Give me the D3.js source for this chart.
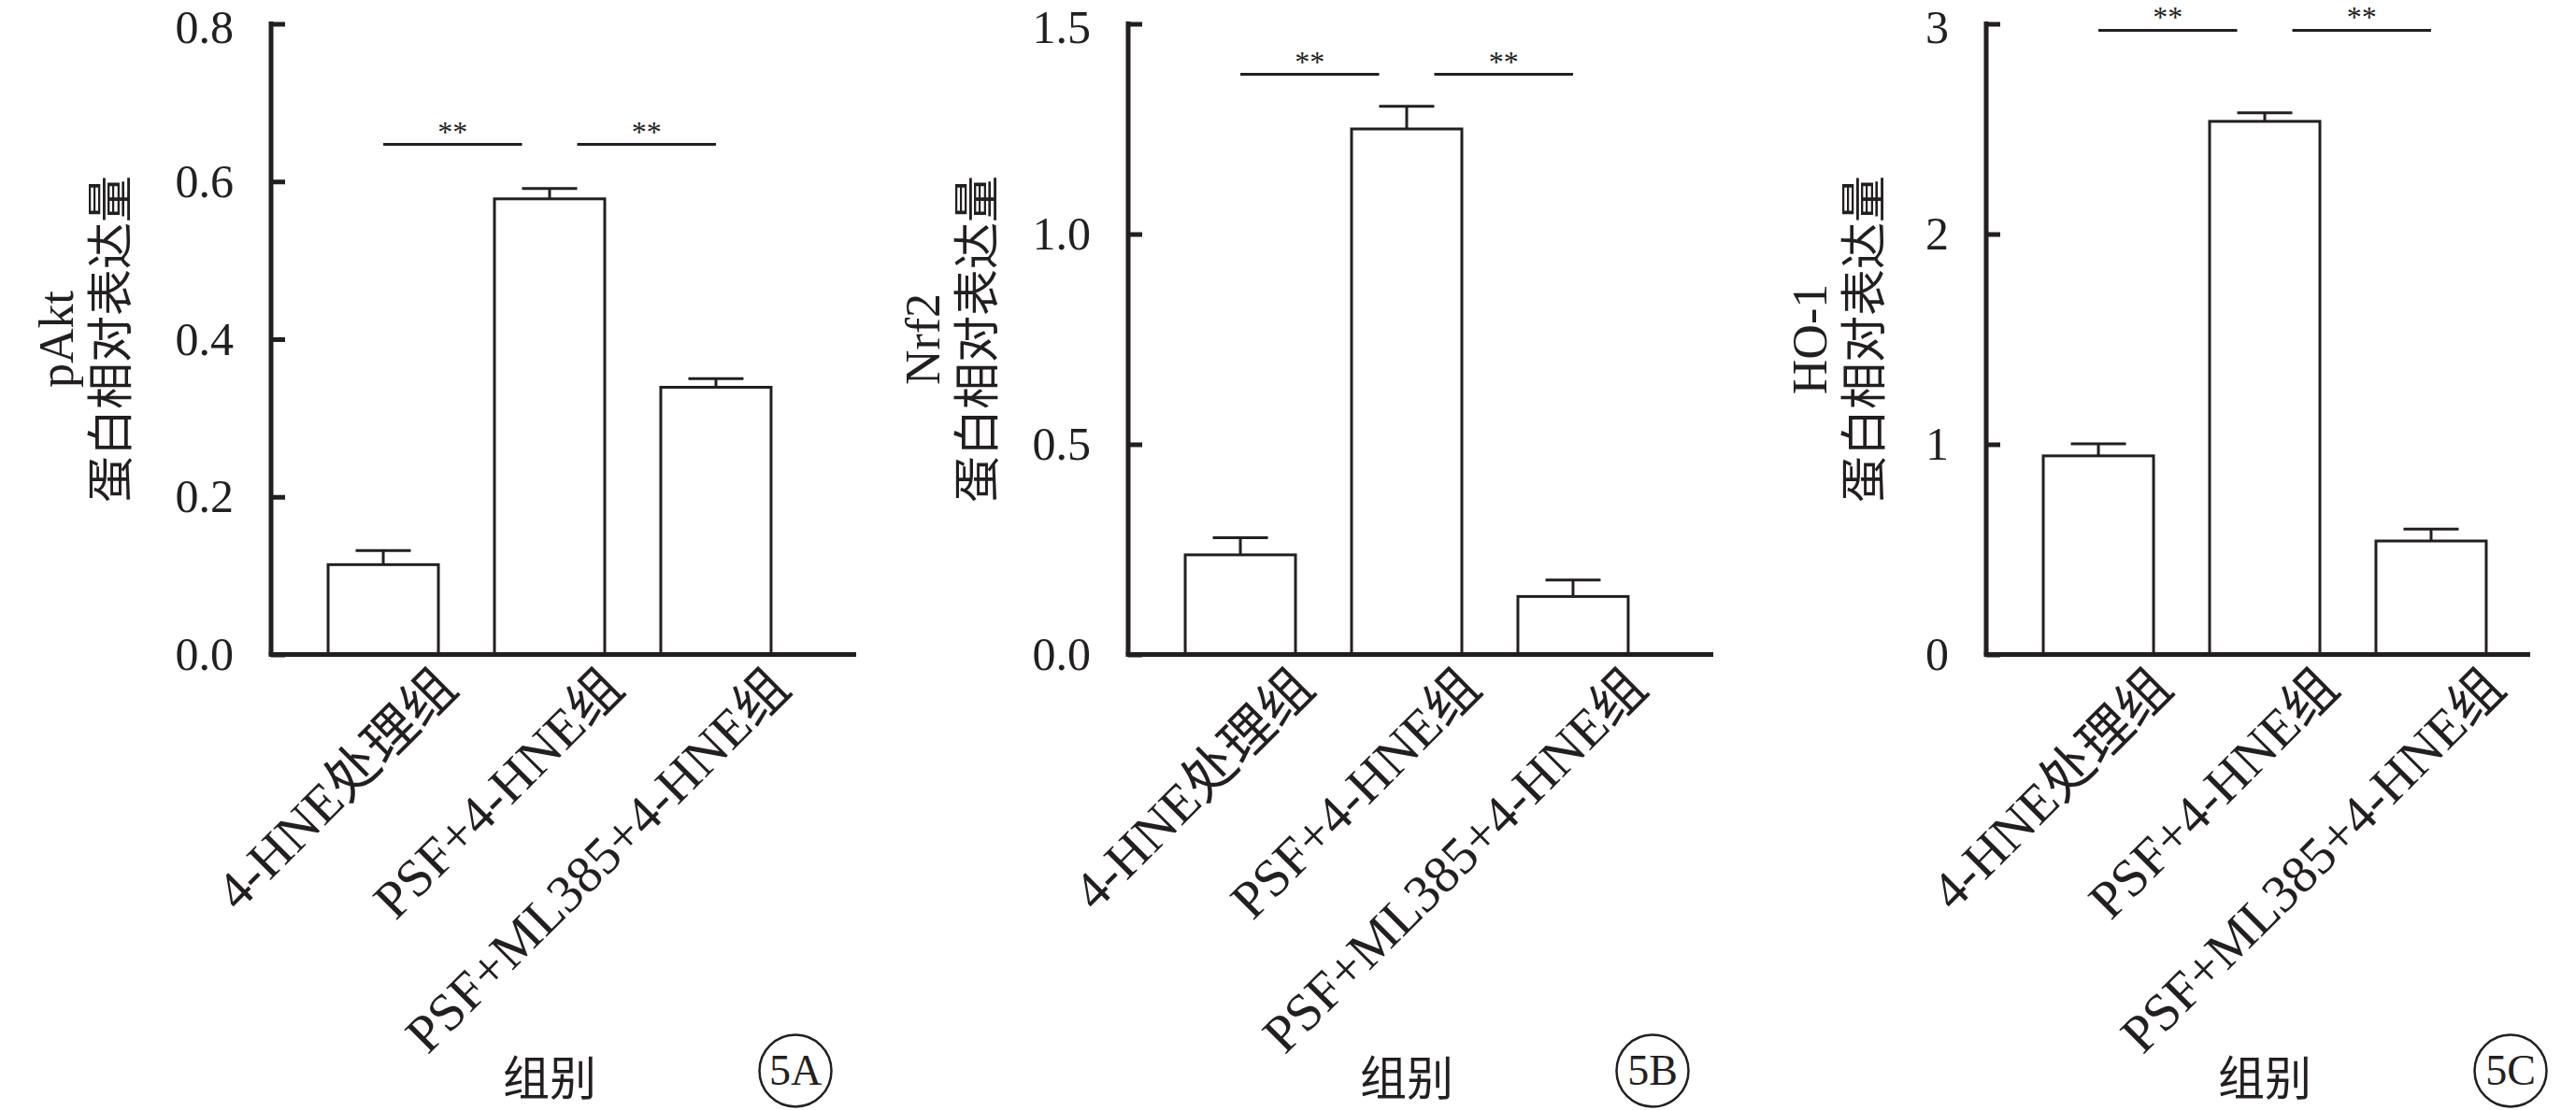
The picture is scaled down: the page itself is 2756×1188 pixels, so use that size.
<!DOCTYPE html>
<html>
<head>
<meta charset="utf-8">
<script src="https://cdn.jsdelivr.net/npm/d3@7"></script>
<style>
  html, body { margin: 0; padding: 0; background: #fff; }
  svg { display: block; }
  text { fill: #231f20; }
</style>
</head>
<body>
<script>
// ---------------- data ----------------
const categories = ["4-HNE处理组", "PSF+4-HNE组", "PSF+ML385+4-HNE组"];

const pAktMean = [0.114, 0.578, 0.339];
const pAktErr  = [0.018, 0.013, 0.011];
const nrf2Mean = [0.237, 1.250, 0.138];
const nrf2Err  = [0.041, 0.054, 0.039];
const ho1Mean  = [0.945, 2.536, 0.540];
const ho1Err   = [0.057, 0.041, 0.057];

const pAktTicks = [0, 0.2, 0.4, 0.6, 0.8];
const nrf2Ticks = [0, 0.5, 1.0, 1.5];
const ho1Ticks  = [0, 1, 2, 3];

const pAktSig = 0.647;
const nrf2Sig = 1.380;
const ho1Sig  = 2.969;

const proteinNames = ["pAkt", "Nrf2", "HO-1"];
const yTitleCN = "蛋白相对表达量";
const xTitle = "组别";
const panelTags = ["5A", "5B", "5C"];
const sigText = "**";

// ------------- layout / style -------------
const W = 2756, H = 1188;
const LATIN = "'Liberation Serif', 'Times New Roman', serif";
const MIXED = "'Liberation Serif', 'Noto Sans CJK SC', serif";
const CJK = "'Noto Sans CJK SC', sans-serif";
const INK = "#231f20";

const panels = [
  { mean: pAktMean, err: pAktErr, ticks: pAktTicks, fmt: d3.format(".1f"), sig: pAktSig, name: proteinNames[0], tag: panelTags[0],
    axisX: 290, axisLen: 626, titleOff: -173 },
  { mean: nrf2Mean, err: nrf2Err, ticks: nrf2Ticks, fmt: d3.format(".1f"), sig: nrf2Sig, name: proteinNames[1], tag: panelTags[1],
    axisX: 1207, axisLen: 626, titleOff: -163 },
  { mean: ho1Mean, err: ho1Err, ticks: ho1Ticks, fmt: d3.format("d"), sig: ho1Sig, name: proteinNames[2], tag: panelTags[2],
    axisX: 2125, axisLen: 582, titleOff: -132 }
];

const yTop = 25.5, yBottom = 700.5;

const svg = d3.select("body").append("svg")
  .attr("width", W).attr("height", H)
  .attr("viewBox", `0 0 ${W} ${H}`);

panels.forEach(p => {
  const g = svg.append("g");
  const x = d3.scaleBand()
    .domain(categories)
    .range([p.axisX, p.axisX + 596])
    .paddingInner(0.337)
    .paddingOuter(0.343);
  const y = d3.scaleLinear()
    .domain([0, p.ticks[p.ticks.length - 1]])
    .range([yBottom, yTop]);

  const bw = x.bandwidth();
  const cx = c => x(c) + bw / 2;

  // bars
  g.selectAll("rect.bar").data(categories).join("rect")
    .attr("class", "bar")
    .attr("x", c => x(c))
    .attr("width", bw)
    .attr("y", (c, i) => y(p.mean[i]))
    .attr("height", (c, i) => y(0) - y(p.mean[i]))
    .attr("fill", "#fff")
    .attr("stroke", INK)
    .attr("stroke-width", 3);

  // error bars
  g.selectAll("line.errv").data(categories).join("line")
    .attr("class", "errv")
    .attr("x1", cx).attr("x2", cx)
    .attr("y1", (c, i) => y(p.mean[i]))
    .attr("y2", (c, i) => y(p.mean[i] + p.err[i]))
    .attr("stroke", INK).attr("stroke-width", 3);
  g.selectAll("line.errc").data(categories).join("line")
    .attr("class", "errc")
    .attr("x1", c => cx(c) - bw / 4).attr("x2", c => cx(c) + bw / 4)
    .attr("y1", (c, i) => y(p.mean[i] + p.err[i]))
    .attr("y2", (c, i) => y(p.mean[i] + p.err[i]))
    .attr("stroke", INK).attr("stroke-width", 3);

  // y axis
  const yAxis = d3.axisLeft(y)
    .tickValues(p.ticks)
    .tickFormat(p.fmt)
    .tickSizeInner(-15)
    .tickSizeOuter(0)
    .tickPadding(40);
  const ya = g.append("g").attr("transform", `translate(${p.axisX},0)`).call(yAxis);
  ya.select(".domain").attr("stroke", INK).attr("stroke-width", 5)
    .attr("d", `M0,${yTop - 2.5}V${yBottom}`);
  ya.selectAll(".tick line").attr("stroke", INK).attr("stroke-width", 5);
  ya.selectAll(".tick text")
    .attr("font-family", LATIN).attr("font-size", 50).attr("fill", INK)
    .attr("dy", (d, i, n) => i === n.length - 1 ? "0.39em" : "0.32em");

  // x axis line
  g.append("line")
    .attr("x1", p.axisX - 2.5).attr("x2", p.axisX + p.axisLen)
    .attr("y1", yBottom).attr("y2", yBottom)
    .attr("stroke", INK).attr("stroke-width", 5);

  // x labels (rotated)
  const xAxis = d3.axisBottom(x).tickSize(0).tickPadding(0);
  const xa = g.append("g").attr("transform", `translate(0,${yBottom})`).call(xAxis);
  xa.select(".domain").remove();
  xa.selectAll(".tick text")
    .attr("font-family", MIXED).attr("font-size", 57).attr("fill", INK)
    .attr("text-anchor", "end")
    .attr("x", 0).attr("y", 0).attr("dy", 0)
    .attr("transform", "translate(82,39) rotate(-45)");

  // significance lines
  const sy = y(p.sig);
  const gap = 29.5;
  const pairs = [
    [cx(categories[0]), cx(categories[1]) - gap],
    [cx(categories[1]) + gap, cx(categories[2])]
  ];
  pairs.forEach(([a, b]) => {
    g.append("line").attr("x1", a).attr("x2", b).attr("y1", sy).attr("y2", sy)
      .attr("stroke", INK).attr("stroke-width", 3);
    g.append("text").attr("x", (a + b) / 2).attr("y", sy - 3)
      .attr("text-anchor", "middle")
      .attr("font-family", LATIN).attr("font-size", 32)
      .text(sigText);
  });

  // y title (two lines)
  const ymid = (yTop + yBottom) / 2;
  const cnX = p.axisX + p.titleOff;
  g.append("text")
    .attr("transform", `translate(${cnX + 19},${ymid}) rotate(-90)`)
    .attr("text-anchor", "middle")
    .attr("font-family", CJK).attr("font-size", 50)
    .text(yTitleCN);
  g.append("text")
    .attr("transform", `translate(${cnX - 52 + 13},${ymid}) rotate(-90)`)
    .attr("text-anchor", "middle")
    .attr("font-family", LATIN).attr("font-size", 52)
    .text(p.name);

  // x title
  const [r0, r1] = x.range();
  g.append("text")
    .attr("x", (r0 + r1) / 2).attr("y", 1172)
    .attr("text-anchor", "middle")
    .attr("font-family", CJK).attr("font-size", 50)
    .text(xTitle);

  // panel tag in circle
  const tx = p.axisX + 561, ty = 1146;
  g.append("circle").attr("cx", tx).attr("cy", ty).attr("r", 38.5)
    .attr("fill", "none").attr("stroke", INK).attr("stroke-width", 2.5);
  g.append("text").attr("x", tx).attr("y", ty + 15)
    .attr("text-anchor", "middle")
    .attr("font-family", LATIN).attr("font-size", 46)
    .text(p.tag);
});
</script>
</body>
</html>
